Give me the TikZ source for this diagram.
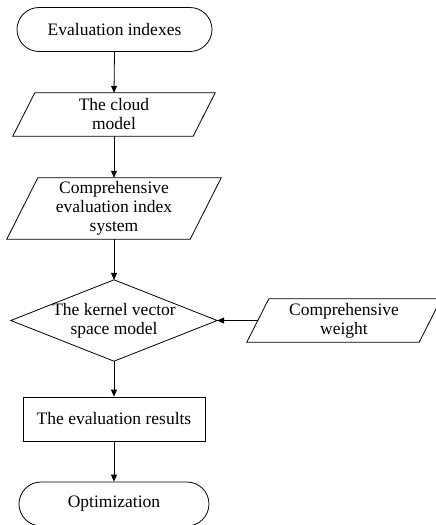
\documentclass[tikz,border=0pt]{standalone}
\usepackage{fontspec}
\setmainfont{Liberation Serif}
\usetikzlibrary{arrows.meta,shapes.misc}
\begin{document}
\begin{tikzpicture}[x=1pt,y=-1pt,
  every node/.style={font=\fontsize{17.5}{19}\selectfont, align=center, inner sep=0pt},
  term/.style={draw, rounded rectangle, minimum height=44pt, line width=0.8pt},
  box/.style={draw, rectangle, minimum height=44pt, line width=0.8pt},
  plain/.style={rectangle},
  outline/.style={line width=0.8pt, line join=miter},
  flow/.style={line width=0.8pt, -{Triangle[length=7pt,width=6pt]}}]
\useasboundingbox (0,0) rectangle (436,525);
\clip (0,0) rectangle (436,525);

\node[term, minimum width=195pt] (start) at (114.5,29.5) {Evaluation indexes};
\node[plain, minimum width=202pt, minimum height=43pt] (p1) at (114,114.5) {The cloud\\model};
\node[plain, minimum width=214pt, minimum height=61pt] (p2) at (114,208.5) {Comprehensive\\evaluation index\\system};
\node[plain, minimum width=206pt, minimum height=81pt] (dm) at (114,320.5) {The kernel vector\\space model};
\node[plain, minimum width=194pt, minimum height=43pt] (w) at (344,320.5) {Comprehensive\\weight};
\node[box, minimum width=182pt] (res) at (114,419) {The evaluation results};
\node[term, minimum width=190pt] (opt) at (114,504) {Optimization};

% parallelograms
\draw[outline] ([xshift=22pt]p1.north west) -- (p1.north east) -- ([xshift=-22pt]p1.south east) -- (p1.south west) -- cycle;
\draw[outline] ([xshift=31pt]p2.north west) -- (p2.north east) -- ([xshift=-31pt]p2.south east) -- (p2.south west) -- cycle;
\draw[outline] ([xshift=22pt]w.north west) -- (w.north east) -- ([xshift=-22pt]w.south east) -- (w.south west) -- cycle;
% diamond
\draw[outline] (dm.north) -- (dm.east) -- (dm.south) -- (dm.west) -- cycle;

\coordinate (wl) at ([xshift=11pt]w.west);

\draw[flow] (start.south) -- (p1.north);
\draw[flow] (p1.south) -- (p2.north);
\draw[flow] (p2.south) -- (dm.north);
\draw[flow] (dm.south) -- (res.north);
\draw[flow] (res.south) -- (opt.north);
\draw[flow] (wl) -- (dm.east);
\end{tikzpicture}
\end{document}
